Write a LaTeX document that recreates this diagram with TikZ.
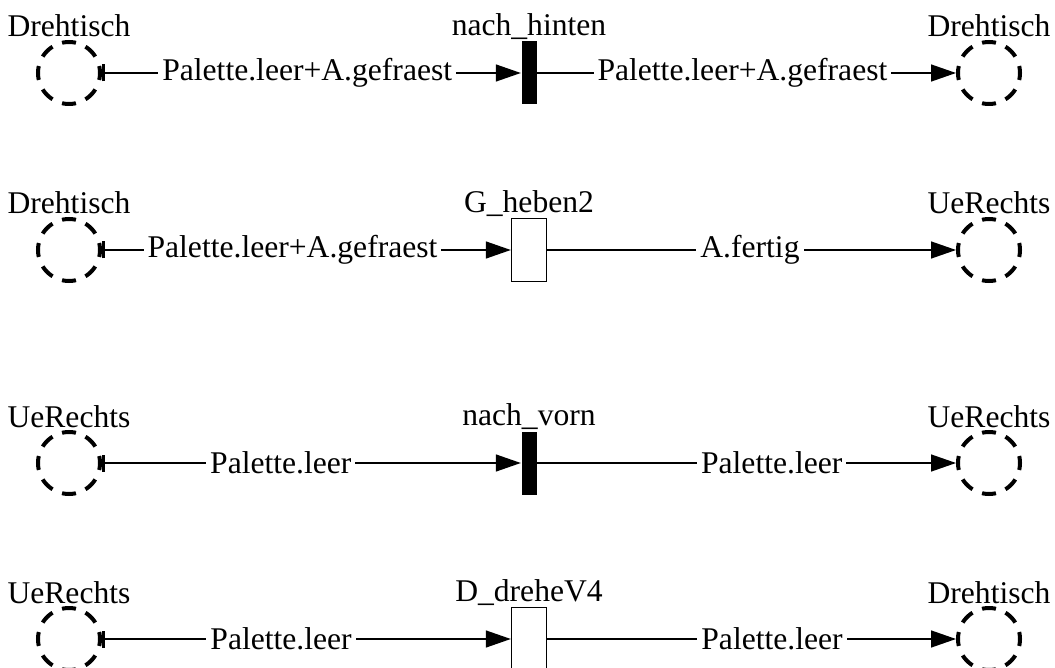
\documentclass[tikz,border=0pt]{standalone}
\usepackage{fontspec}
\setmainfont{Liberation Serif}
\usetikzlibrary{arrows.meta,positioning}

\begin{document}
\begin{tikzpicture}[x=0.5pt,y=-0.5pt,node distance=230pt,line width=0.7pt,
    font=\fontsize{15.8}{19}\selectfont,
    place/.style={circle,draw,line width=2pt,dash pattern=on 7pt off 5.17pt,dash phase=3.5pt,minimum size=31pt,inner sep=0pt},
    bar/.style={rectangle,fill=black,minimum width=7.5pt,minimum height=31.5pt,inner sep=0pt},
    box/.style={rectangle,draw,fill=white,minimum width=17.5pt,minimum height=31.5pt,inner sep=0pt},
    ptag/.style={anchor=base,inner sep=0pt,yshift=1.5pt},
    ttag/.style={anchor=base,inner sep=0pt,yshift=2.5pt},
    lbl/.style={fill=white,inner sep=2pt},
    feed/.style={{Bar[width=8.5pt,line width=1.4pt]}-{Triangle[length=12.5pt,width=8.5pt]}},
    emit/.style={-{Triangle[length=12.5pt,width=8.5pt]}}]
             \useasboundingbox (0,0) rectangle (1055,668);
             % first row
             \node[place,label={[ptag]above:Drehtisch}]   (A) at (69,73) {};
             \node[bar,label={[ttag]above:nach\_hinten}]  (B) [right of=A] {};
             \node[place,label={[ptag]above:Drehtisch}]   (C) [right of=B] {};
             % second row
             \node[place,label={[ptag]above:Drehtisch}]   (D) at (69,250) {};
             \node[box,label={[ttag]above:G\_heben2}]     (E) [right of=D] {};
             \node[place,label={[ptag]above:UeRechts}]    (F) [right of=E] {};
             % third row
             \node[place,label={[ptag]above:UeRechts}]    (G) at (69,463) {};
             \node[bar,label={[ttag]above:nach\_vorn}]    (H) [right of=G] {};
             \node[place,label={[ptag]above:UeRechts}]    (I) [right of=H] {};
             % fourth row
             \node[place,label={[ptag]above:UeRechts}]    (J) at (69,639) {};
             \node[box,label={[ttag]above:D\_dreheV4}]    (K) [right of=J] {};
             \node[place,label={[ptag]above:Drehtisch}]   (L) [right of=K] {};
             \path
             (A) edge[feed] node[lbl,pos=0.49]{Palette.leer+A.gefraest} (B)
             (B) edge[emit] node[lbl,pos=0.49]{Palette.leer+A.gefraest} (C)
             (D) edge[feed] node[lbl,pos=0.466]{Palette.leer+A.gefraest} (E)
             (E) edge[emit] node[lbl,pos=0.496]{A.fertig} (F)
             (G) edge[feed] node[lbl,pos=0.427]{Palette.leer} (H)
             (H) edge[emit] node[lbl,pos=0.56]{Palette.leer} (I)
             (J) edge[feed] node[lbl,pos=0.438]{Palette.leer} (K)
             (K) edge[emit] node[lbl,pos=0.55]{Palette.leer} (L);
\end{tikzpicture}
\end{document}
